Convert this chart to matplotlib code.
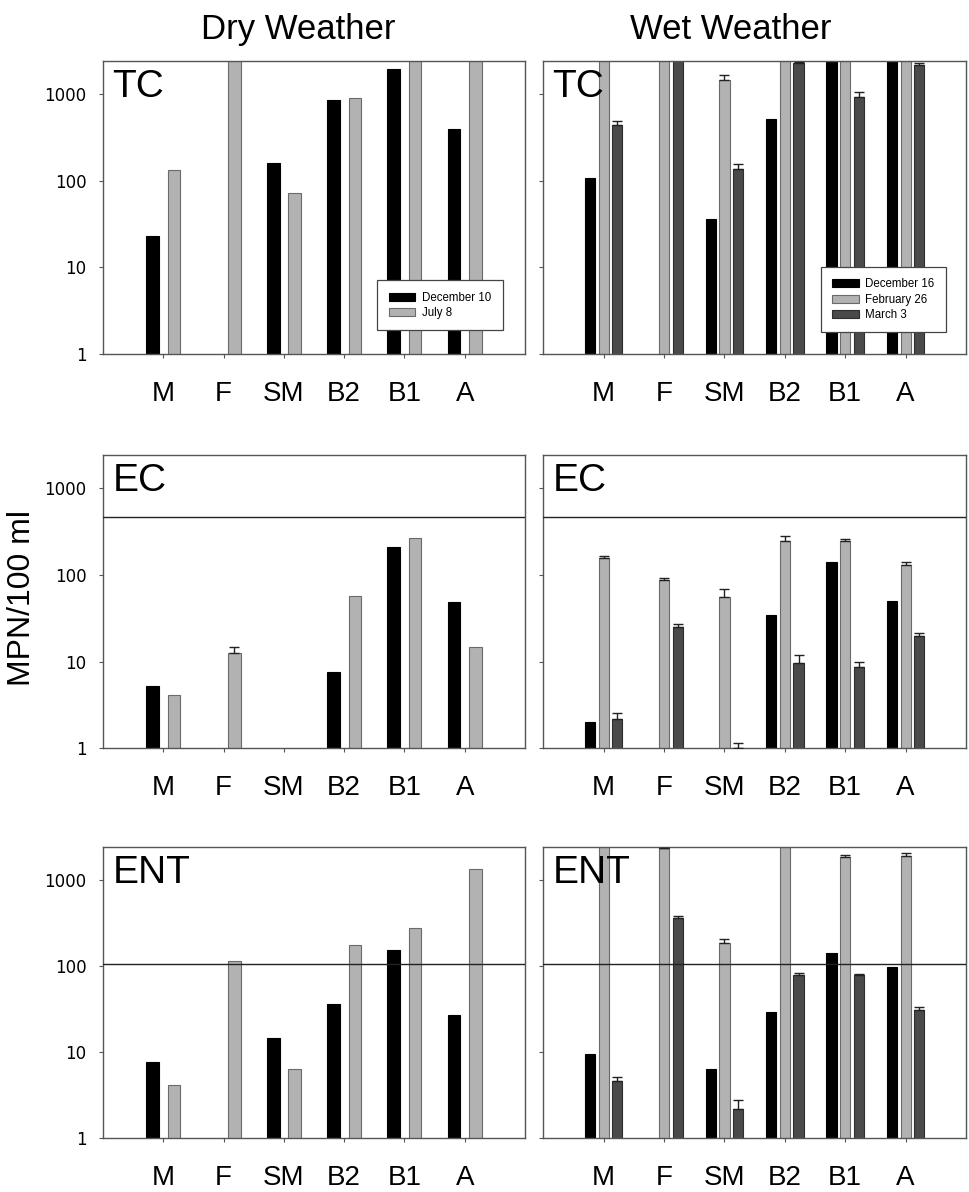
import numpy as np
import matplotlib.pyplot as plt
from matplotlib import font_manager

nan = np.nan

# Sampling sites
sites = ['M', 'F', 'SM', 'B2', 'B1', 'A']

# Dry weather (December 10, July 8)
dry_dates = ['December 10', 'July 8']
dry_tc_dec10 = [22.7, nan, 158, 846, 1940, 389]
dry_tc_jul8 = [134, 2420, 72, 900, 2420, 2420]
dry_ec_dec10 = [5.2, nan, nan, 7.5, 209, 49]
dry_ec_jul8 = [4.1, 12.5, nan, 57, 266, 14.7]
dry_ec_jul8_err = [0, 2.3, 0, 0, 0, 0]
dry_ent_dec10 = [7.6, nan, 14.5, 35.8, 153, 27]
dry_ent_jul8 = [4.1, 115, 6.3, 174, 274, 1320]

# Wet weather (December 16, February 26, March 3)
wet_dates = ['December 16', 'February 26', 'March 3']
wet_tc_dec16 = [107, nan, 35.8, 508, 2420, 2420]
wet_tc_feb26 = [2420, 2420, 1462, 2420, 2420, 2420]
wet_tc_feb26_err = [0, 0, 193, 0, 0, 0]
wet_tc_mar3 = [437, 2420, 138, 2270, 933, 2155]
wet_tc_mar3_err = [49, 0, 17, 60, 117, 125]
wet_ec_dec16 = [2.0, nan, nan, 34.7, 141.5, 49.5]
wet_ec_feb26 = [157, 86.7, 55.6, 245, 245, 130.6]
wet_ec_feb26_err = [10, 5.3, 12.4, 33, 14, 9.4]
wet_ec_mar3 = [2.2, 25.4, 1.0, 9.65, 8.75, 20]
wet_ec_mar3_err = [0.37, 1.6, 0.16, 2.25, 1.15, 1.5]
wet_ent_dec16 = [9.5, nan, 6.3, 29, 140, 98]
wet_ent_feb26 = [2420, 2305, 184.5, 2420, 1850, 1863]
wet_ent_feb26_err = [0, 35, 22.5, 0, 83, 157]
wet_ent_mar3 = [4.58, 360, 2.19, 78.6, 78.6, 31]
wet_ent_mar3_err = [0.62, 23, 0.61, 4.2, 2.4, 2.8]

# Standards drawn as horizontal lines
ec_limit = 460
ent_limit = 104

ymax = 2420
frame_col = '#555555'
fills = ['#000000', '#b2b2b2', '#4a4a4a']
edges = ['#000000', '#6a6a6a', '#2e2e2e']

installed = {f.name for f in font_manager.fontManager.ttflist}
if 'Liberation Sans Narrow' in installed:
    ylab_font, ylab_size = ['Liberation Sans Narrow', 'Liberation Sans'], 26
else:
    ylab_font, ylab_size = ['Liberation Sans'], 23


def draw_panel(ax, series, errs, labels, width, offsets, tag, limit=None,
               show_ylabels=True, legend=None):
    x = np.arange(1, len(sites) + 1)
    handles = []
    for k, vals in enumerate(series):
        vals = np.array(vals, dtype=float)
        h = ax.bar(x + offsets[k], vals, width, color=fills[k], edgecolor=edges[k],
                   linewidth=0.8, label=labels[k], zorder=2)
        handles.append(h)
        err = errs[k]
        if err is not None:
            err = np.array(err, dtype=float)
            m = err > 0
            ax.errorbar((x + offsets[k])[m], vals[m],
                        yerr=[np.zeros(m.sum()), err[m]], fmt='none',
                        ecolor='#222222', elinewidth=1.0, capsize=3.5,
                        capthick=1.0, zorder=3)
    ax.set_yscale('log')
    ax.set_ylim(1, ymax)
    ax.set_xlim(0, 7)
    ax.set_xticks(x)
    ax.set_xticklabels(sites, fontsize=20, family='Liberation Sans')
    ax.set_yticks([1, 10, 100, 1000])
    ax.minorticks_off()
    if show_ylabels:
        ax.set_yticklabels(['1', '10', '100', '1000'], fontsize=12,
                           family='DejaVu Sans')
    else:
        ax.set_yticklabels([])
    ax.tick_params(axis='x', direction='out', length=3, width=0.8,
                   color=frame_col, pad=16.5)
    ax.tick_params(axis='y', direction='out', length=3, width=0.8,
                   color=frame_col, pad=9)
    for s in ax.spines.values():
        s.set_color(frame_col)
        s.set_linewidth(1.0)
    if limit is not None:
        ax.axhline(limit, color='#222222', linewidth=1.0, zorder=4)
    ax.text(0.022, 0.972, tag, transform=ax.transAxes, fontsize=28,
            family='Liberation Sans', ha='left', va='top', zorder=5)
    if legend is not None:
        leg = ax.legend(handles, labels, loc='upper left', bbox_to_anchor=legend,
                        borderaxespad=0, fancybox=False, framealpha=1,
                        edgecolor='#444444', prop={'family': 'Liberation Sans', 'size': 8.3},
                        handlelength=2.3, handleheight=0.7, handletextpad=0.57,
                        labelspacing=0.28, borderpad=1.0)
        leg.get_frame().set_linewidth(0.9)
        leg.set_zorder(6)


fig = plt.figure(figsize=(9.7, 11.92), dpi=100)

lefts = [0.1062, 0.5601]
widths = [0.4351, 0.4358]
bottoms = [0.7030, 0.3722, 0.0451]
heights = [0.2461, 0.2461, 0.2446]

dry_w = 0.21
dry_off = [-0.177, 0.177]
wet_w = 0.17
wet_off = [-0.226, 0.0, 0.226]

# Dry weather column
ax = fig.add_axes([lefts[0], bottoms[0], widths[0], heights[0]])
draw_panel(ax, [dry_tc_dec10, dry_tc_jul8], [None, None], dry_dates, dry_w, dry_off,
           'TC', legend=(0.650, 0.252))
ax = fig.add_axes([lefts[0], bottoms[1], widths[0], heights[1]])
draw_panel(ax, [dry_ec_dec10, dry_ec_jul8], [None, dry_ec_jul8_err], dry_dates, dry_w,
           dry_off, 'EC', limit=ec_limit)
ax = fig.add_axes([lefts[0], bottoms[2], widths[0], heights[2]])
draw_panel(ax, [dry_ent_dec10, dry_ent_jul8], [None, None], dry_dates, dry_w, dry_off,
           'ENT', limit=ent_limit)

# Wet weather column
ax = fig.add_axes([lefts[1], bottoms[0], widths[1], heights[0]])
draw_panel(ax, [wet_tc_dec16, wet_tc_feb26, wet_tc_mar3],
           [None, wet_tc_feb26_err, wet_tc_mar3_err], wet_dates, wet_w, wet_off,
           'TC', show_ylabels=False, legend=(0.656, 0.297))
ax = fig.add_axes([lefts[1], bottoms[1], widths[1], heights[1]])
draw_panel(ax, [wet_ec_dec16, wet_ec_feb26, wet_ec_mar3],
           [None, wet_ec_feb26_err, wet_ec_mar3_err], wet_dates, wet_w, wet_off,
           'EC', limit=ec_limit, show_ylabels=False)
ax = fig.add_axes([lefts[1], bottoms[2], widths[1], heights[2]])
draw_panel(ax, [wet_ent_dec16, wet_ent_feb26, wet_ent_mar3],
           [None, wet_ent_feb26_err, wet_ent_mar3_err], wet_dates, wet_w, wet_off,
           'ENT', limit=ent_limit, show_ylabels=False)

fig.text(0.307, 1 - 39 / 1192, 'Dry Weather', fontsize=25, family='Liberation Sans',
         ha='center', va='baseline')
fig.text(0.753, 1 - 39 / 1192, 'Wet Weather', fontsize=25, family='Liberation Sans',
         ha='center', va='baseline')
fig.text(0.0227, 0.498, 'MPN/100 ml', fontsize=ylab_size, family=ylab_font, rotation=90,
         ha='center', va='center')

fig.savefig('out.png', dpi=100)
